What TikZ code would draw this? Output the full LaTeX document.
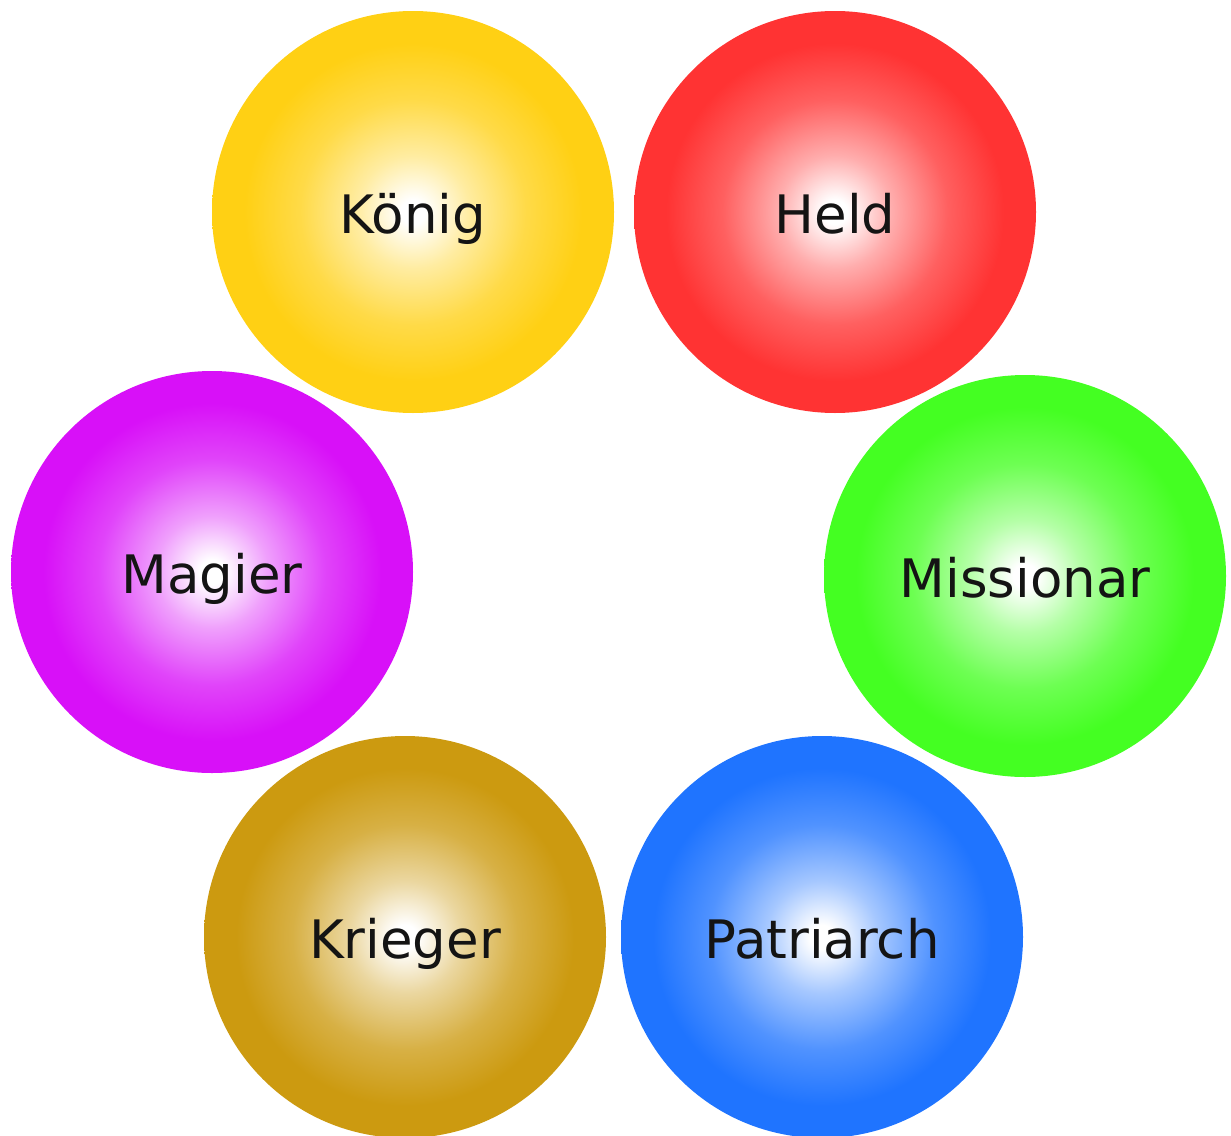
\documentclass[tikz,border=0pt]{standalone}
\usepackage{fontspec}
\setmainfont{DejaVu Sans}
\definecolor{kcol}{RGB}{255,208,20}
\definecolor{hcol}{RGB}{255,51,51}
\definecolor{micol}{RGB}{68,255,34}
\definecolor{macol}{RGB}{216,16,248}
\definecolor{krcol}{RGB}{204,154,16}
\definecolor{pcol}{RGB}{31,116,255}
\colorlet{bcol}{red}
\pgfdeclareradialshading[bcol]{bubble}{\pgfpoint{0bp}{0bp}}{%
  color(0bp)=(white); color(1.5bp)=(white);
  color(7bp)=(bcol!40!white); color(14bp)=(bcol!78!white);
  color(21bp)=(bcol); color(50bp)=(bcol)}
\tikzset{
  ball/.style={/utils/exec={\colorlet{bcol}{#1}}, circle, shading=bubble,
    minimum size=402pt, inner sep=0pt, text height=42pt, text depth=0pt,
    font=\fontsize{53}{53}\selectfont, text=black!92}
}
\begin{document}
\begin{tikzpicture}[x=1pt,y=-1pt]
\useasboundingbox (0,0) rectangle (1231,1135);
\fill[white] (0,0) rectangle (1231,1135);
\node[ball=kcol]  (koenig)     at (413,212) {König};
\node[ball=hcol]  (held)       at (835,212) {Held};
\node[ball=macol] (magier)     at (212,572) {Magier};
\node[ball=micol] (missionar)  at (1025,576) {Missionar};
\node[ball=krcol] (krieger)    at (405,937) {Krieger};
\node[ball=pcol]  (patriarch)  at (822,937) {Patriarch};
\end{tikzpicture}
\end{document}
